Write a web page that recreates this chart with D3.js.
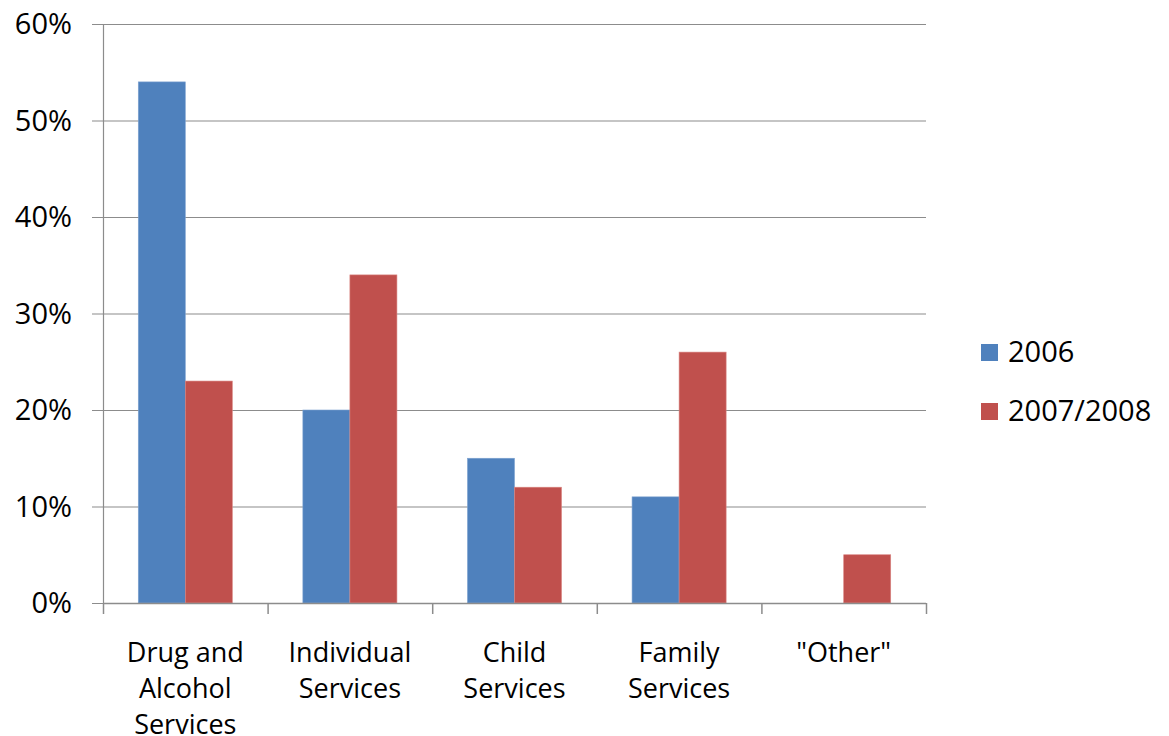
<!DOCTYPE html>
<html><head><meta charset="utf-8">
<script src="https://cdn.jsdelivr.net/npm/d3@7"></script>
<style>body{margin:0;background:#fff}svg{display:block}text{font-family:"Open Sans","Liberation Sans",sans-serif;fill:#000}</style>
</head><body><svg id="c" width="1169" height="736"></svg>
<script>
const categories = [["Drug and","Alcohol","Services"],["Individual","Services"],["Child","Services"],["Family","Services"],["\"Other\""]];
const seriesNames = ["2006","2007/2008"];
const values2006 = [54, 20, 15, 11, null];
const values2007 = [23, 34, 12, 26, 5];
const yTicks = [0,10,20,30,40,50,60];
const colors = ["#4F81BD","#C0504D"];

(function(){
const svg = d3.select("#c");
const pl = 103, pr = 926, pt = 24, pb = 603;
const x = d3.scaleBand().domain(d3.range(categories.length)).range([pl,pr]).paddingInner(0).paddingOuter(0);
const y = d3.scaleLinear().domain([0,60]).range([pb,pt]);
const inner = d3.scaleBand().domain([0,1]).range([0,x.bandwidth()]).paddingInner(0).paddingOuter(0.75);

svg.append("g").selectAll("line").data(yTicks).join("line")
  .attr("x1",92).attr("x2",pr).attr("y1",d=>y(d)+0.5).attr("y2",d=>y(d)+0.5)
  .attr("stroke","#8c8c8c").attr("stroke-width",1.2);
svg.append("line").attr("x1",pl+0.5).attr("x2",pl+0.5).attr("y1",pt).attr("y2",pb)
  .attr("stroke","#8c8c8c").attr("stroke-width",1.2);
svg.append("g").selectAll("text").data(yTicks).join("text")
  .attr("x",72).attr("y",d=>y(d)).attr("dy","0.35em").attr("text-anchor","end")
  .attr("font-size",29).text(d=>d+"%");

const data = categories.map((c,i)=>[values2006[i],values2007[i]]);
const g = svg.append("g");
data.forEach((vals,i)=>{
  vals.forEach((v,j)=>{
    if(v==null) return;
    g.append("rect").attr("x",x(i)+inner(j)).attr("width",inner.bandwidth())
      .attr("y",y(v)).attr("height",y(0)-y(v)).attr("fill",colors[j])
      .attr("stroke", j===0?"#7da2d0":"#d98582").attr("stroke-width",0.6);
  });
});

svg.append("line").attr("x1",pl).attr("x2",pr).attr("y1",pb+0.5).attr("y2",pb+0.5)
  .attr("stroke","#8c8c8c").attr("stroke-width",1.5);
const bounds = d3.range(categories.length+1).map(i=> i<categories.length ? x(i) : pr);
svg.append("g").selectAll("line").data(bounds).join("line")
  .attr("x1",d=>d+0.5).attr("x2",d=>d+0.5).attr("y1",pb).attr("y2",pb+11)
  .attr("stroke","#8c8c8c").attr("stroke-width",1.5);

categories.forEach((lines,i)=>{
  const t = svg.append("text").attr("text-anchor","middle").attr("font-size",27);
  lines.forEach((l,k)=>{
    t.append("tspan").attr("x",x(i)+x.bandwidth()/2).attr("y",662+k*36).text(l);
  });
});

const leg = svg.append("g");
seriesNames.forEach((s,i)=>{
  const cy = 352 + i*59;
  leg.append("rect").attr("x",981).attr("y",cy-8).attr("width",17).attr("height",17).attr("fill",colors[i]);
  leg.append("text").attr("x",1008).attr("y",cy).attr("dy","0.35em").attr("font-size",29).text(s);
});
})();
</script></body></html>
